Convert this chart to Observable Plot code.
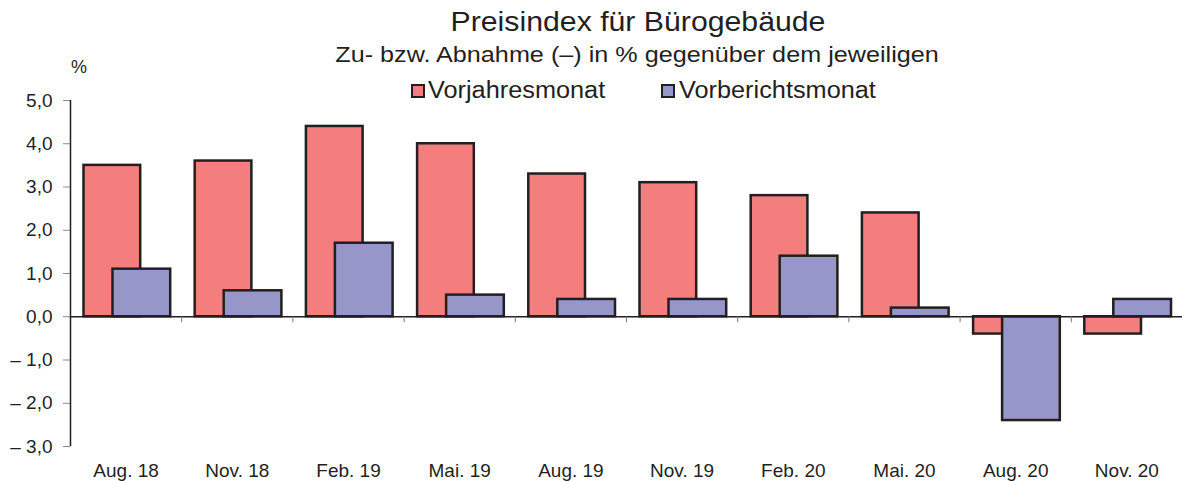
<!DOCTYPE html>
<html>
<head>
<meta charset="utf-8">
<script src="https://cdn.jsdelivr.net/npm/d3@7"></script>
<script src="https://cdn.jsdelivr.net/npm/@observablehq/plot@0.6"></script>
<style>
  html, body { margin: 0; padding: 0; background: #fff; }
  #wrap { position: relative; width: 1182px; height: 481px; font-family: "Liberation Sans", Arial, sans-serif; color: #231f20; }
  .t { position: absolute; white-space: nowrap; line-height: 1; }
  .sq { position: absolute; box-sizing: border-box; width: 14px; height: 14px; border: 2px solid #231f20; }
</style>
</head>
<body>
<div id="wrap">
  <div id="chart"></div>
  <div class="t" style="left:638px; top:9px; font-size:27px; transform:translateX(-50%) scaleX(1.12);">Preisindex für Bürogebäude</div>
  <div class="t" style="left:637px; top:44px; font-size:22px; transform:translateX(-50%) scaleX(1.145);">Zu- bzw. Abnahme (–) in % gegenüber dem jeweiligen</div>
  <div class="sq" style="left:411px; top:84px; background:#f47e7e;"></div>
  <div class="t" style="left:428px; top:79px; font-size:23px; transform-origin:0 50%; transform:scaleX(1.1);">Vorjahresmonat</div>
  <div class="sq" style="left:661px; top:84px; background:#9696c8;"></div>
  <div class="t" style="left:679px; top:79px; font-size:23px; transform-origin:0 50%; transform:scaleX(1.1);">Vorberichtsmonat</div>
  <div class="t" style="left:71px; top:58px; font-size:18px;">%</div>
</div>
<script>
const categories = ["Aug. 18", "Nov. 18", "Feb. 19", "Mai. 19", "Aug. 19", "Nov. 19", "Feb. 20", "Mai. 20", "Aug. 20", "Nov. 20"];
const vorjahresmonat = [3.5, 3.6, 4.4, 4.0, 3.3, 3.1, 2.8, 2.4, -0.4, -0.4];
const vorberichtsmonat = [1.1, 0.6, 1.7, 0.5, 0.4, 0.4, 1.4, 0.2, -2.4, 0.4];
const yTicks = [-3, -2, -1, 0, 1, 2, 3, 4, 5];

const red = "#f47e7e";
const blue = "#9696c8";
const ink = "#231f20";

const rows = (vals) => vals.map((v, i) => ({i, cat: categories[i], v}));
const fmt = d => (d < 0 ? "– " : "") + Math.abs(d).toFixed(1).replace(".", ",");

const chart = Plot.plot({
  width: 1182,
  height: 481,
  marginTop: 100,
  marginBottom: 35,
  marginLeft: 70,
  marginRight: 0,
  style: {fontFamily: "'Liberation Sans', Arial, sans-serif", color: ink, background: "#fff"},
  x: {domain: [0, categories.length], axis: null},
  y: {domain: [-3, 5], axis: null},
  marks: [
    Plot.axisY({
      ticks: yTicks, tickFormat: fmt, tickSize: 7, tickPadding: 11,
      fontSize: 19, stroke: "#8a8a8a", fill: ink, label: null
    }),
    Plot.axisX({
      ticks: categories.map((c, i) => i + 0.5),
      tickFormat: d => categories[Math.floor(d)],
      tickSize: 0, tickPadding: 17, fontSize: 19, fill: ink, label: null
    }),
    Plot.rectY(rows(vorjahresmonat), {
      x1: d => d.i, x2: d => d.i + 1, y1: 0, y2: "v",
      insetLeft: 13.5, insetRight: 41,
      fill: red, stroke: ink, strokeWidth: 2.5
    }),
    Plot.rectY(rows(vorberichtsmonat), {
      x1: d => d.i, x2: d => d.i + 1, y1: 0, y2: "v",
      insetLeft: 42.5, insetRight: 11,
      fill: blue, stroke: ink, strokeWidth: 2.5
    }),
    Plot.ruleY([0], {stroke: ink, strokeWidth: 1.3}),
    Plot.ruleX(d3.range(1, categories.length), {y1: 0, y2: -0.14, stroke: "#777", strokeWidth: 1}),
    Plot.ruleX([0], {y1: -3, y2: 5, stroke: ink, strokeWidth: 1.5})
  ]
});
document.getElementById("chart").appendChild(chart);
</script>
</body>
</html>
